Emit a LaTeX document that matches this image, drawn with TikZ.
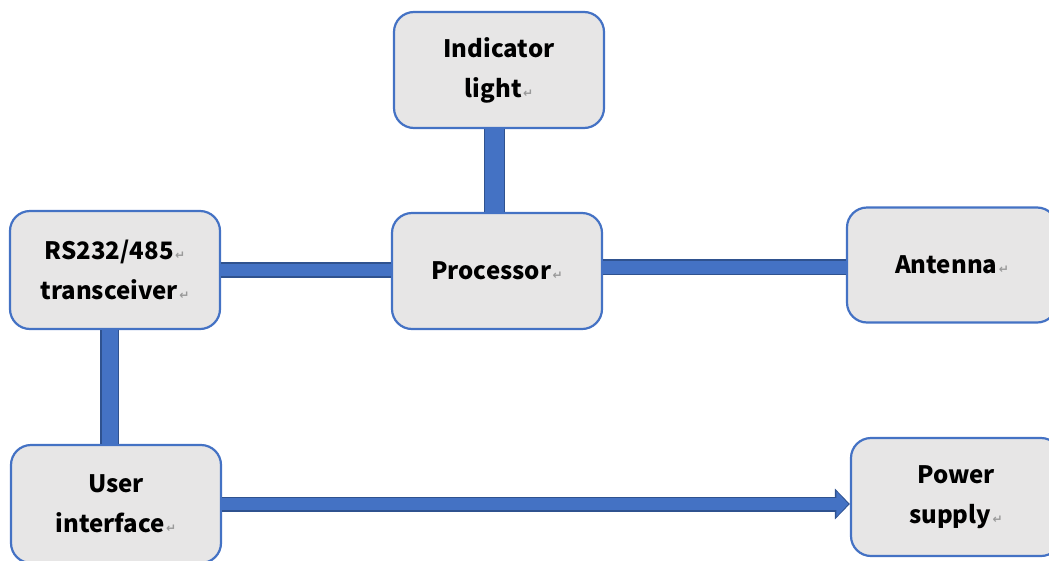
\documentclass[tikz,border=0pt]{standalone}
\usepackage{fontspec}
\setmainfont{Noto Sans CJK SC}
\newfontfamily\retfont{DejaVu Sans}
\usetikzlibrary{arrows.meta}
\definecolor{boxfill}{HTML}{E7E6E6}
\definecolor{boxline}{HTML}{4472C4}
\definecolor{barfill}{HTML}{4472C4}
\definecolor{baredge}{HTML}{2F528F}
\definecolor{retgray}{HTML}{9A9A9A}
% paragraph mark after a line
\newcommand\ret{\kern1.5pt{\retfont\fontsize{12}{12}\selectfont\color{retgray}\char"21B5}}
\tikzset{
  block/.style={draw=boxline, line width=2.2pt, fill=boxfill, rounded corners=20pt,
    minimum width=210pt, minimum height=116pt, align=center, inner sep=0pt,
    font=\bfseries\fontsize{24}{40}\selectfont},
  bar/.style={draw=baredge, line width=1.4pt, double=barfill, double distance=#1},
}
\begin{document}
\begin{tikzpicture}[x=1pt,y=-1pt]
\useasboundingbox (0,0) rectangle (1049,560);
\clip (0,0) rectangle (1049,560);
\node[block] (ind) at (499,70) {Indicator\\light\ret};
\node[block] (proc) at (497,271) {Processor\ret};
\node[block, minimum height=118pt] (rs) at (115,270) {RS232/485\ret\\transceiver\ret};
\node[block, minimum height=115pt] (ant) at (952,265) {Antenna\ret};
\node[block, minimum height=118pt] (ui) at (116,504) {User\\interface\ret};
\node[block, minimum height=118pt] (pw) at (956,497) {Power\\supply\ret};

% bus bars between the blocks
\draw[bar=19pt] ([xshift=-4.5pt]ind.south) -- ([xshift=-2.5pt]proc.north);
\draw[bar=12.5pt] (rs.east) -- (rs.east -| proc.west);
\draw[bar=13pt] ([yshift=4pt]proc.east) -- ([yshift=4pt]proc.east -| ant.west);
\draw[bar=16pt] ([xshift=-5.5pt]rs.south) -- ([xshift=-5.5pt]rs.south |- ui.north);

% power feed arrow
\draw[baredge, line width=15pt, -{Triangle[length=15pt,width=30pt]}]
  (ui.east) -- (ui.east -| pw.west);
\draw[barfill, line width=12pt, -{Triangle[length=12pt,width=25pt]}]
  (ui.east) -- ([xshift=-1.6pt]ui.east -| pw.west);
\end{tikzpicture}
\end{document}
